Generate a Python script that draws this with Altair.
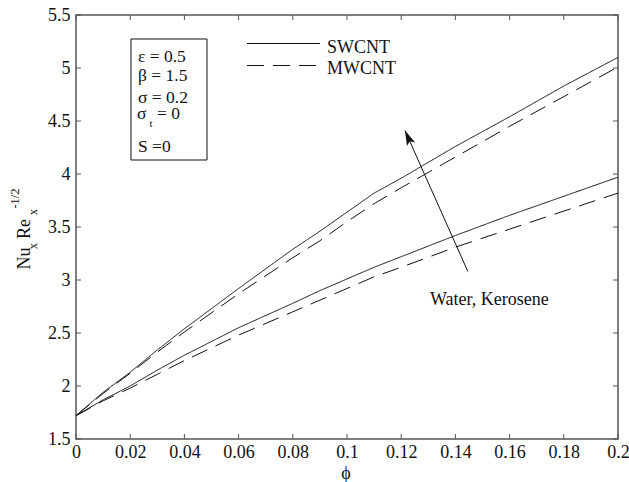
import altair as alt
import pandas as pd

# Volume fraction of nanotubes
phi = [0, 0.01, 0.02, 0.03, 0.04, 0.06, 0.08, 0.09, 0.10, 0.11, 0.12, 0.14, 0.16, 0.18, 0.20]

# Local Nusselt number Nu_x Re_x^(-1/2)
kerosene_swcnt = [1.72, 1.94, 2.13, 2.34, 2.54, 2.92, 3.29, 3.46, 3.64, 3.82, 3.96, 4.26, 4.54, 4.83, 5.10]
kerosene_mwcnt = [1.72, 1.93, 2.12, 2.32, 2.51, 2.87, 3.21, 3.37, 3.55, 3.72, 3.87, 4.16, 4.45, 4.73, 5.01]
water_swcnt = [1.72, 1.87, 2.00, 2.15, 2.29, 2.55, 2.78, 2.90, 3.01, 3.12, 3.22, 3.42, 3.61, 3.79, 3.97]
water_mwcnt = [1.72, 1.86, 1.98, 2.11, 2.24, 2.48, 2.70, 2.81, 2.92, 3.03, 3.12, 3.31, 3.48, 3.65, 3.82]

x_ticks = [0, 0.02, 0.04, 0.06, 0.08, 0.1, 0.12, 0.14, 0.16, 0.18, 0.2]
y_ticks = [1.5, 2, 2.5, 3, 3.5, 4, 4.5, 5, 5.5]

# Arrow showing the trend from water to kerosene (tail, head)
arrow_phi = [0.1446, 0.1214]
arrow_nu = [3.08, 4.41]

series = [
    ("Kerosene", "SWCNT", kerosene_swcnt),
    ("Kerosene", "MWCNT", kerosene_mwcnt),
    ("Water", "SWCNT", water_swcnt),
    ("Water", "MWCNT", water_mwcnt),
]
rows = []
for fluid, tube, vals in series:
    for p, v in zip(phi, vals):
        rows.append({"phi": p, "nu": v, "fluid": fluid, "tube": tube, "curve": f"{fluid} {tube}"})
df = pd.DataFrame(rows)

W, H = 542, 424
FONT = "Liberation Serif"
INK = "#111111"
FRAME = "#555555"
DASH = [17, 9]

x_scale = alt.Scale(domain=[0, 0.2], nice=False, zero=False)
y_scale = alt.Scale(domain=[1.5, 5.5], nice=False, zero=False)

x_axis = alt.Axis(values=x_ticks, format="~g", ticks=False, domain=False, grid=False,
                  labelFont=FONT, labelFontSize=18, labelColor=INK, labelPadding=4,
                  labelFlush=False, labelOverlap=False, title=None)
y_axis = alt.Axis(values=y_ticks, format="~g", ticks=False, domain=False, grid=False,
                  labelFont=FONT, labelFontSize=18, labelColor=INK, labelPadding=6,
                  labelFlush=False, labelOverlap=False, title=None)


def X(field):
    return alt.X(field, scale=x_scale, axis=x_axis)


def Y(field):
    return alt.Y(field, scale=y_scale, axis=y_axis)


lines = alt.Chart(df).mark_line(color=INK, strokeWidth=1).encode(
    x=X("phi:Q"),
    y=Y("nu:Q"),
    detail="curve:N",
    strokeDash=alt.StrokeDash("tube:N", scale=alt.Scale(domain=["SWCNT", "MWCNT"], range=[[1, 0], DASH]),
                              legend=None),
)

# Inward tick marks on all four sides
xt = pd.DataFrame({"phi": x_ticks})
yt = pd.DataFrame({"nu": y_ticks})
tick_style = dict(color=FRAME, strokeWidth=1)
ticks = [
    alt.Chart(xt).mark_rule(**tick_style).encode(x=X("phi:Q"), y=alt.value(H), y2=alt.value(H - 5)),
    alt.Chart(xt).mark_rule(**tick_style).encode(x=X("phi:Q"), y=alt.value(0), y2=alt.value(5)),
    alt.Chart(yt).mark_rule(**tick_style).encode(y=Y("nu:Q"), x=alt.value(0), x2=alt.value(5)),
    alt.Chart(yt).mark_rule(**tick_style).encode(y=Y("nu:Q"), x=alt.value(W), x2=alt.value(W - 5)),
]

# Arrow: shaft and barbed head
arrow_df = pd.DataFrame({"phi": arrow_phi, "nu": arrow_nu})
shaft = alt.Chart(arrow_df).mark_line(color=INK, strokeWidth=1).encode(x=X("phi:Q"), y=Y("nu:Q"))
head = alt.Chart(arrow_df.iloc[[1]]).mark_point(
    shape="M0,0 L-0.6,2 L0,1.55 L0.6,2 Z", size=225, filled=True, color=INK, opacity=1, angle=336,
    strokeWidth=0,
).encode(x=X("phi:Q"), y=Y("nu:Q"))


def label(text, x, y, size=18, align="left", baseline="alphabetic", angle=0):
    return alt.Chart(pd.DataFrame({"t": [text]})).mark_text(
        font=FONT, fontSize=size, color=INK, align=align, baseline=baseline, angle=angle,
    ).encode(text="t:N", x=alt.value(x), y=alt.value(y))


def hline(x1, x2, y, dash=None):
    kw = dict(color=INK, strokeWidth=1)
    if dash:
        kw["strokeDash"] = dash
    return alt.Chart(pd.DataFrame({"a": [0]})).mark_rule(**kw).encode(
        x=alt.value(x1), x2=alt.value(x2), y=alt.value(y))


# Parameter box
box = alt.Chart(pd.DataFrame({"a": [0]})).mark_rect(fill="white", stroke=INK, strokeWidth=1).encode(
    x=alt.value(55), x2=alt.value(131), y=alt.value(24), y2=alt.value(145))
params = [
    label("ε = 0.5", 62, 47, 17.5),
    label("β = 1.5", 62, 65.5, 17.5),
    label("σ = 0.2", 62, 88, 17.5),
    label("σ", 61, 104, 17.5),
    label("t", 73.5, 112, 11),
    label("= 0", 81, 104, 17.5),
    label("S =0", 62, 137, 17.5),
]

# Line-style key
key = [
    hline(171, 244, 28.5),
    hline(171, 244, 50.5, DASH),
    label("SWCNT", 251, 37.5),
    label("MWCNT", 251, 58.5),
]

# Axis titles
titles = [
    label("ϕ", 270, 459, 18, align="center", baseline="middle"),
    label("Nu", -51, 243.5, 18, align="center", baseline="middle", angle=270),
    label("x", -43, 231, 12.5, align="center", baseline="middle", angle=270),
    label("Re", -51, 214, 18, align="center", baseline="middle", angle=270),
    label("x", -43, 197, 12.5, align="center", baseline="middle", angle=270),
    label("-1/2", -61, 183.5, 12.5, align="center", baseline="middle", angle=270),
]

note = label("Water, Kerosene", 354, 290)

chart = alt.layer(
    lines, *ticks, shaft, head, box, *params, *key, *titles, note
).properties(
    width=W, height=H,
    autosize=alt.AutoSizeParams(type="none"),
    padding={"left": 76, "top": 15, "right": 11, "bottom": 43},
    background="white",
).configure_view(stroke=FRAME, strokeWidth=1.5)

chart.save("out.html", embed_options={"renderer": "svg", "actions": False})
